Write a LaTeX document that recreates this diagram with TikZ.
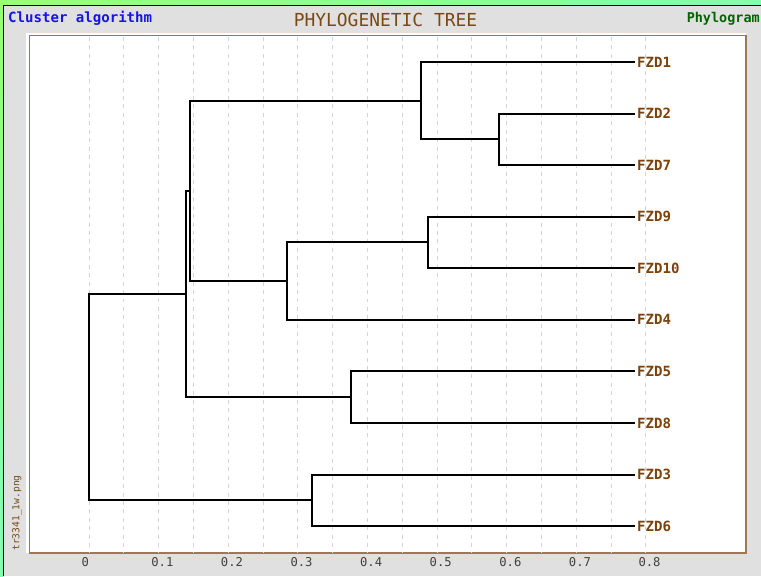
\documentclass[tikz,border=0pt]{standalone}
\usepackage{fontspec}
\setmonofont{DejaVu Sans Mono}
\definecolor{panel}{RGB}{224,224,224}
\definecolor{frame}{RGB}{160,120,80}
\definecolor{rule}{RGB}{212,212,212}
\definecolor{leafbrown}{RGB}{125,65,10}
\definecolor{titlebrown}{RGB}{122,72,20}
\definecolor{algoblue}{RGB}{20,20,230}
\definecolor{typegreen}{RGB}{0,100,0}
\definecolor{limebar}{RGB}{153,255,119}
\definecolor{mintbar}{RGB}{128,255,176}

\begin{document}
\begin{tikzpicture}[x=0.03cm,y=-0.03cm,
    gridline/.style={rule,line width=0.8pt,dash pattern=on 3.4pt off 3.8pt},
    branch/.style={black,line width=1.7pt,line cap=rect},
    leaf/.style={anchor=west,inner sep=2.5pt,text=leafbrown,font=\ttfamily\bfseries\fontsize{12}{12}\selectfont},
    ticklabel/.style={anchor=base west,inner sep=0pt,text=black!75,font=\ttfamily\fontsize{10.4}{10}\selectfont},
    header/.style={inner sep=0pt,font=\ttfamily\fontsize{12}{12}\selectfont}]
      \useasboundingbox (0,0) rectangle (761,576);
      \fill [panel] (0,0) rectangle (761,576);
      \shade [left color=limebar,right color=mintbar] (0,0) rectangle (761,5);
      \shade [top color=limebar,bottom color=mintbar] (0,0) rectangle (3,576);
      \draw [black,line width=0.85pt] (3.5,576) -- (3.5,5.5) -- (761,5.5);
      \fill [white] (26,33) rectangle (746,553);
      \draw [frame,fill=white,line width=1.3pt] (29.5,35.5) rectangle (746,553);
      \foreach \k in {0,...,16}
        \draw [gridline] (89+\k*34.8,37) -- (89+\k*34.8,552);
      \foreach \k in {0,...,8}
        \node [ticklabel] (tick\k) at (81.5+\k*69.6,566.5) {\ifnum\k=0 0\else 0.\k\fi};
      \node [header,anchor=base,text=titlebrown,font=\ttfamily\fontsize{15.3}{15}\selectfont] (title) at (385.5,26) {PHYLOGENETIC TREE};
      \node [header,anchor=base west,text=algoblue,font=\ttfamily\bfseries\fontsize{12}{12}\selectfont] (algo) at (8,22) {Cluster algorithm};
      \node [header,anchor=base east,text=typegreen,font=\ttfamily\bfseries\fontsize{11.5}{12}\selectfont] (kind) at (760,22) {Phylogram};
      \node [header,rotate=90,text=titlebrown,font=\ttfamily\fontsize{8.2}{8}\selectfont] (srcname) at (17,513) {tr3341\_1w.png};
      \begin{scope}[shift={(89,62)},x=20.88cm,y=-1.5468cm]
        \foreach \n/\y in {1/0,2/1,7/2,9/3,10/4,4/5,5/6,8/7,3/8,6/9}
          \node [leaf] (fzd\n) at (0.783,\y) {FZD\n};
        \coordinate (n27) at (0.589,1.5);
        \coordinate (n127) at (0.477,0.75);
        \coordinate (n910) at (0.487,3.5);
        \coordinate (n4910) at (0.284,4.25);
        \coordinate (nupper) at (0.1455,2.5);
        \coordinate (n58) at (0.376,6.5);
        \coordinate (nmain) at (0.139,4.5);
        \coordinate (n36) at (0.321,8.5);
        \coordinate (root) at (0,6.5);
        \draw [branch] (fzd2.west) -| (n27) |- (fzd7.west);
        \draw [branch] (fzd1.west) -| (n127) |- (n27);
        \draw [branch] (fzd9.west) -| (n910) |- (fzd10.west);
        \draw [branch] (n910) -| (n4910) |- (fzd4.west);
        \draw [branch] (n127) -| (nupper) |- (n4910);
        \draw [branch] (fzd5.west) -| (n58) |- (fzd8.west);
        \draw [branch] (nupper) -| (nmain) |- (n58);
        \draw [branch] (fzd3.west) -| (n36) |- (fzd6.west);
        \draw [branch] (nmain) -| (root) |- (n36);
      \end{scope}
    \end{tikzpicture}
\end{document}
